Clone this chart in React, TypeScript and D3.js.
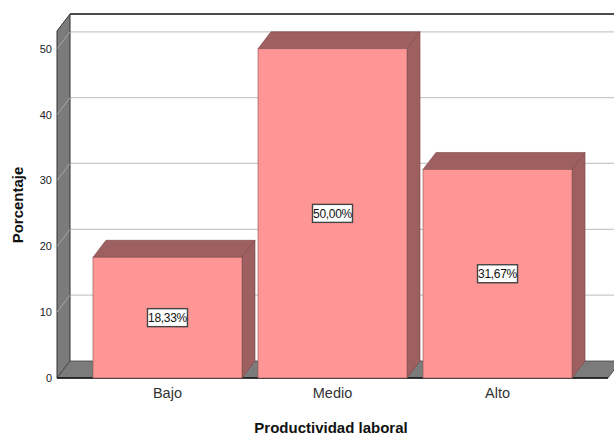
import * as d3 from "d3";
import React from "react";

const categories = ["Bajo", "Medio", "Alto"];
const values = [18.33, 50.0, 31.67];
const valueLabels = ["18,33%", "50,00%", "31,67%"];
const yTicks = [0, 10, 20, 30, 40, 50];

const W = 614;
const H = 436;
const DX = 13; // depth offset
const DY = -17;
const font = "Arial, 'Liberation Sans', sans-serif";

export default function App() {
  const x = d3
    .scaleBand()
    .domain(categories)
    .range([57, 608])
    .paddingInner(0.097)
    .paddingOuter(0.218);
  const y = d3.scaleLinear().domain([0, 52.7]).range([378, 31]);

  const x0 = 57;
  const x1 = 608;
  const y0 = y(0);
  const yTop = y(52.7);

  const pts = (p: number[][]) => p.map((d) => d.join(",")).join(" ");

  return (
    <svg
      width={W}
      height={H}
      style={{ position: "absolute", left: 0, top: 0, background: "#fff" }}
    >
      {/* back wall */}
      <rect x={x0 + DX} y={yTop + DY} width={x1 - x0} height={y0 - yTop} fill="#fff" />
      {yTicks.slice(1).map((t) => (
        <line
          key={"g" + t}
          x1={x0 + DX}
          x2={x1 + DX}
          y1={y(t) + DY}
          y2={y(t) + DY}
          stroke="#c9c9c9"
          strokeWidth={1.2}
        />
      ))}
      <line x1={x0 + DX} x2={x1 + DX} y1={yTop + DY} y2={yTop + DY} stroke="#111" strokeWidth={1.6} />

      {/* left wall */}
      <polygon
        points={pts([
          [x0, y0],
          [x0, yTop],
          [x0 + DX, yTop + DY],
          [x0 + DX, y0 + DY],
        ])}
        fill="#7b7b7b"
        stroke="#333"
        strokeWidth={1}
      />
      {yTicks.slice(1).map((t) => (
        <line
          key={"w" + t}
          x1={x0}
          x2={x0 + DX}
          y1={y(t)}
          y2={y(t) + DY}
          stroke="#a8a8a8"
          strokeWidth={1}
        />
      ))}

      {/* floor */}
      <polygon
        points={pts([
          [x0, y0],
          [x0 + DX, y0 + DY],
          [x1 + DX, y0 + DY],
          [x1, y0],
        ])}
        fill="#7b7b7b"
        stroke="#444"
        strokeWidth={0.8}
      />
      <line x1={x0} x2={x1} y1={y0} y2={y0} stroke="#111" strokeWidth={1.5} />

      {/* bars */}
      {categories.map((c, i) => {
        const bx = x(c) as number;
        const bw = x.bandwidth();
        const by = y(values[i]);
        const cy = (by + y0) / 2;
        return (
          <g key={c}>
            <polygon
              points={pts([
                [bx, by],
                [bx + DX, by + DY],
                [bx + bw + DX, by + DY],
                [bx + bw, by],
              ])}
              fill="#9d5f5f"
              stroke="#7a4545"
              strokeWidth={0.6}
            />
            <polygon
              points={pts([
                [bx + bw, by],
                [bx + bw + DX, by + DY],
                [bx + bw + DX, y0 + DY],
                [bx + bw, y0],
              ])}
              fill="#9d5f5f"
              stroke="#7a4545"
              strokeWidth={0.6}
            />
            <rect
              x={bx}
              y={by}
              width={bw}
              height={y0 - by}
              fill="#ff9696"
              stroke="#8a5555"
              strokeWidth={0.6}
            />
            <rect
              x={bx + bw / 2 - 20}
              y={cy - 9}
              width={40}
              height={18}
              fill="#fff"
              stroke="#444"
              strokeWidth={1.4}
            />
            <text
              x={bx + bw / 2}
              y={cy + 4.5}
              textAnchor="middle"
              fontFamily={font}
              fontSize={12}
              letterSpacing={-0.3}
              fill="#111"
            >
              {valueLabels[i]}
            </text>
            <text
              x={bx + bw / 2}
              y={398}
              textAnchor="middle"
              fontFamily={font}
              fontSize={14.5}
              fill="#333"
            >
              {c}
            </text>
          </g>
        );
      })}

      {/* y ticks */}
      {yTicks.map((t) => (
        <text
          key={"t" + t}
          x={52}
          y={y(t) + 4}
          textAnchor="end"
          fontFamily={font}
          fontSize={11}
          fill="#222"
        >
          {t}
        </text>
      ))}

      <text
        transform={`translate(23,205) rotate(-90)`}
        textAnchor="middle"
        fontFamily={font}
        fontSize={15}
        fontWeight="bold"
        fill="#111"
      >
        Porcentaje
      </text>
      <text
        x={331}
        y={433}
        textAnchor="middle"
        fontFamily={font}
        fontSize={15}
        fontWeight="bold"
        fill="#111"
      >
        Productividad laboral
      </text>
    </svg>
  );
}
